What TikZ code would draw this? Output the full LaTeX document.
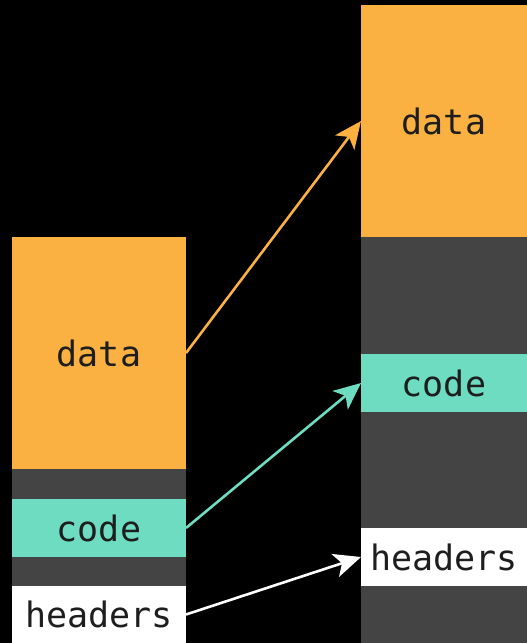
\documentclass[tikz,border=0pt]{standalone}
\usepackage{fontspec}
\setmonofont{DejaVu Sans Mono}
\usetikzlibrary{arrows.meta}
\definecolor{segorange}{HTML}{FBB142}
\definecolor{segteal}{HTML}{6EDCC0}
\definecolor{seggray}{HTML}{444444}
\definecolor{segtext}{HTML}{1E1E1E}
\tikzset{
  seg/.style={anchor=north west, inner sep=0pt, outer sep=0pt, text=segtext,
    font=\ttfamily\fontsize{35}{38}\selectfont},
  dataseg/.style={seg, fill=segorange},
  codeseg/.style={seg, fill=segteal},
  hdrseg/.style={seg, fill=white},
  gapseg/.style={seg, fill=seggray},
  link/.style={line width=2.6pt, -{Stealth[length=27pt,width=24pt,inset=7pt]}},
}
\begin{document}
\begin{tikzpicture}[x=1pt,y=-1pt]
  \fill[black] (0,0) rectangle (527,643);
  \useasboundingbox (0,0) rectangle (527,643);
  \clip (0,0) rectangle (527,643);
  % small file on the left
  \node[gapseg, minimum width=174, minimum height=120] (lgap) at (12,469) {};
  \node[dataseg, minimum width=174, minimum height=232] (ldata) at (12,237) {data};
  \node[codeseg, minimum width=174, minimum height=58] (lcode) at (12,499) {code};
  \node[hdrseg, minimum width=174, minimum height=57] (lhdr) at (12,586) {headers};
  % larger layout on the right
  \node[gapseg, minimum width=166, minimum height=410] (rgap) at (361,237) {};
  \node[dataseg, minimum width=166, minimum height=232] (rdata) at (361,5) {data};
  \node[codeseg, minimum width=166, minimum height=58] (rcode) at (361,354) {code};
  \node[hdrseg, minimum width=166, minimum height=58] (rhdr) at (361,528) {headers};
  % mappings
  \draw[link, segorange] (ldata.east) -- (rdata.west);
  \draw[link, segteal] (lcode.east) -- (rcode.west);
  \draw[link, white] (lhdr.east) -- (rhdr.west);
\end{tikzpicture}
\end{document}
